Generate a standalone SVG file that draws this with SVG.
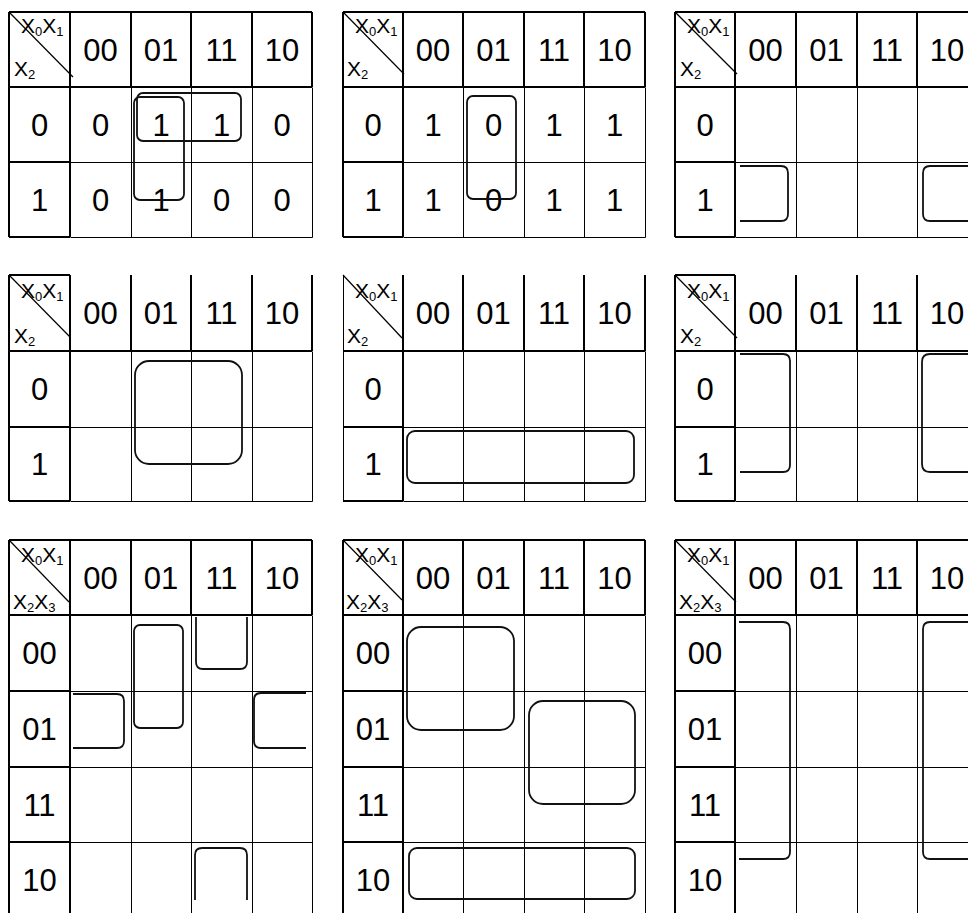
<svg xmlns="http://www.w3.org/2000/svg" width="968" height="913" viewBox="0 0 968 913">
<style>
.thick{stroke:#000;stroke-width:2;fill:none}
.thin{stroke:#000;stroke-width:1;fill:none}
.diag{stroke:#000;stroke-width:1.2;fill:none}
.loop{stroke:#111;stroke-width:1.8;fill:none}
.num{font-family:"Liberation Sans",Arial,sans-serif;font-size:31px;text-anchor:middle;fill:#000}
.lab{font-family:"Liberation Sans",Arial,sans-serif;font-size:21px;fill:#000}
.sub{font-size:13px}
</style>
<rect width="968" height="913" fill="#fff"/>

<!-- Map 1 -->
<g id="kmap1">
<path class="thick" d="M9,12 H312 M9,87 H312 M9,12 V237 M70,12 V237 M131,12 V87 M191,12 V87 M252,12 V87 M312,12 V87 M9,162 H70 M9,237 H70"/>
<path class="thin" transform="translate(0.5,0.5)" d="M131,87 V237 M191,87 V237 M252,87 V237 M312,87 V237 M70,162 H312 M70,237 H312"/>
<path class="diag" d="M9,12 L73,77"/>
<text class="lab" x="21" y="33">X<tspan class="sub" dy="3">0</tspan><tspan dy="-3">X</tspan><tspan class="sub" dy="3">1</tspan></text>
<text class="lab" x="14" y="76">X<tspan class="sub" dy="3">2</tspan></text>
<text class="num" x="100.5" y="60.5">00</text><text class="num" x="161" y="60.5">01</text><text class="num" x="221.5" y="60.5">11</text><text class="num" x="282" y="60.5">10</text>
<text class="num" x="39.5" y="135.5">0</text><text class="num" x="39.5" y="210.5">1</text>
<text class="num" x="100.5" y="135.5">0</text><text class="num" x="161" y="135.5">1</text><text class="num" x="221.5" y="135.5">1</text><text class="num" x="282" y="135.5">0</text>
<text class="num" x="100.5" y="210.5">0</text><text class="num" x="161" y="210.5">1</text><text class="num" x="221.5" y="210.5">0</text><text class="num" x="282" y="210.5">0</text>
<rect class="loop" x="137" y="93" width="104" height="48" rx="6"/>
<rect class="loop" x="134" y="97" width="50" height="103" rx="6"/>
</g>

<!-- Map 2 -->
<g id="kmap2">
<path class="thick" d="M343,12 H645 M343,87 H645 M343,12 V237 M403,12 V237 M463,12 V87 M524,12 V87 M584,12 V87 M645,12 V87 M343,162 H403 M343,237 H403"/>
<path class="thin" transform="translate(0.5,0.5)" d="M463,87 V237 M524,87 V237 M584,87 V237 M645,87 V237 M403,162 H645 M403,237 H645"/>
<path class="diag" d="M343,12 L404,74"/>
<text class="lab" x="355" y="33">X<tspan class="sub" dy="3">0</tspan><tspan dy="-3">X</tspan><tspan class="sub" dy="3">1</tspan></text>
<text class="lab" x="347" y="76">X<tspan class="sub" dy="3">2</tspan></text>
<text class="num" x="433" y="60.5">00</text><text class="num" x="493.5" y="60.5">01</text><text class="num" x="554" y="60.5">11</text><text class="num" x="614.5" y="60.5">10</text>
<text class="num" x="373" y="135.5">0</text><text class="num" x="373" y="210.5">1</text>
<text class="num" x="433" y="135.5">1</text><text class="num" x="493.5" y="135.5">0</text><text class="num" x="554" y="135.5">1</text><text class="num" x="614.5" y="135.5">1</text>
<text class="num" x="433" y="210.5">1</text><text class="num" x="493.5" y="210.5">0</text><text class="num" x="554" y="210.5">1</text><text class="num" x="614.5" y="210.5">1</text>
<rect class="loop" x="467" y="96" width="49" height="103" rx="6"/>
</g>

<!-- Map 3 -->
<g id="kmap3">
<path class="thick" d="M675,12 H977 M675,87 H977 M675,12 V237 M735,12 V237 M796,12 V87 M857,12 V87 M917,12 V87 M675,162 H735 M675,237 H735"/>
<path class="thin" transform="translate(0.5,0.5)" d="M796,87 V237 M857,87 V237 M917,87 V237 M735,162 H977 M735,237 H977"/>
<path class="diag" d="M675,12 L737,74"/>
<text class="lab" x="687" y="33">X<tspan class="sub" dy="3">0</tspan><tspan dy="-3">X</tspan><tspan class="sub" dy="3">1</tspan></text>
<text class="lab" x="680" y="76">X<tspan class="sub" dy="3">2</tspan></text>
<text class="num" x="765.5" y="60.5">00</text><text class="num" x="826.5" y="60.5">01</text><text class="num" x="887" y="60.5">11</text><text class="num" x="947" y="60.5">10</text>
<text class="num" x="705" y="135.5">0</text><text class="num" x="705" y="210.5">1</text>
<path class="loop" d="M740,166 H781 Q788,166 788,173 V214 Q788,221 781,221 H740"/>
<path class="loop" d="M970,166 H930 Q923,166 923,173 V214 Q923,221 930,221 H970"/>
</g>

<!-- Map 4 -->
<g id="kmap4">
<path class="thick" d="M9,275 H70 M9,351 H312 M9,275 V501 M70,275 V501 M131,275 V351 M191,275 V351 M252,275 V351 M312,275 V351 M9,427 H70 M9,501 H70"/>
<path class="thin" transform="translate(0.5,0.5)" d="M131,351 V501 M191,351 V501 M252,351 V501 M312,351 V501 M70,427 H312 M70,501 H312"/>
<path class="diag" d="M9,275 L70,337"/>
<text class="lab" x="21" y="298">X<tspan class="sub" dy="3">0</tspan><tspan dy="-3">X</tspan><tspan class="sub" dy="3">1</tspan></text>
<text class="lab" x="14" y="343">X<tspan class="sub" dy="3">2</tspan></text>
<text class="num" x="100.5" y="324">00</text><text class="num" x="161" y="324">01</text><text class="num" x="221.5" y="324">11</text><text class="num" x="282" y="324">10</text>
<text class="num" x="39.5" y="400">0</text><text class="num" x="39.5" y="475">1</text>
<rect class="loop" x="135" y="361" width="107" height="103" rx="14"/>
</g>

<!-- Map 5 -->
<g id="kmap5">
<path class="thick" d="M343,351 H645 M403,275 V501 M463,275 V351 M524,275 V351 M584,275 V351 M645,275 V351 M343,427 H403 M343,501 H403"/>
<path class="thin" transform="translate(0.5,0.5)" d="M343,275 V501 M463,351 V501 M524,351 V501 M584,351 V501 M645,351 V501 M403,427 H645 M403,501 H645"/>
<path class="diag" d="M343,275 L402,338"/>
<text class="lab" x="355" y="298">X<tspan class="sub" dy="3">0</tspan><tspan dy="-3">X</tspan><tspan class="sub" dy="3">1</tspan></text>
<text class="lab" x="347" y="343">X<tspan class="sub" dy="3">2</tspan></text>
<text class="num" x="433" y="324">00</text><text class="num" x="493.5" y="324">01</text><text class="num" x="554" y="324">11</text><text class="num" x="614.5" y="324">10</text>
<text class="num" x="373" y="400">0</text><text class="num" x="373" y="475">1</text>
<rect class="loop" x="407" y="431" width="227" height="52" rx="8"/>
</g>

<!-- Map 6 -->
<g id="kmap6">
<path class="thick" d="M675,275 H735 M675,351 H977 M675,275 V501 M735,275 V501 M796,275 V351 M857,275 V351 M917,275 V351 M675,427 H735 M675,501 H735"/>
<path class="thin" transform="translate(0.5,0.5)" d="M796,351 V501 M857,351 V501 M917,351 V501 M735,427 H977 M735,501 H977"/>
<path class="diag" d="M675,275 L737,338"/>
<text class="lab" x="687" y="298">X<tspan class="sub" dy="3">0</tspan><tspan dy="-3">X</tspan><tspan class="sub" dy="3">1</tspan></text>
<text class="lab" x="680" y="343">X<tspan class="sub" dy="3">2</tspan></text>
<text class="num" x="765.5" y="324">00</text><text class="num" x="826.5" y="324">01</text><text class="num" x="887" y="324">11</text><text class="num" x="947" y="324">10</text>
<text class="num" x="705" y="400">0</text><text class="num" x="705" y="475">1</text>
<path class="loop" d="M740,354 H783 Q790,354 790,361 V465 Q790,472 783,472 H740"/>
<path class="loop" d="M970,354 H930 Q922,354 922,362 V464 Q922,472 930,472 H970"/>
</g>

<!-- Map 7 -->
<g id="kmap7">
<path class="thick" d="M9,540 H312 M9,615 H312 M9,540 V918 M70,540 V918 M131,540 V615 M191,540 V615 M252,540 V615 M312,540 V615 M9,691 H70 M9,767 H70 M9,842 H70"/>
<path class="thin" transform="translate(0.5,0.5)" d="M131,615 V918 M191,615 V918 M252,615 V918 M312,615 V918 M70,691 H312 M70,767 H312 M70,842 H312"/>
<path class="diag" d="M9,540 L69,602"/>
<text class="lab" x="21" y="562">X<tspan class="sub" dy="3">0</tspan><tspan dy="-3">X</tspan><tspan class="sub" dy="3">1</tspan></text>
<text class="lab" x="13" y="609">X<tspan class="sub" dy="3">2</tspan><tspan dy="-3">X</tspan><tspan class="sub" dy="3">3</tspan></text>
<text class="num" x="100.5" y="588.5">00</text><text class="num" x="161" y="588.5">01</text><text class="num" x="221.5" y="588.5">11</text><text class="num" x="282" y="588.5">10</text>
<text class="num" x="39.5" y="664">00</text><text class="num" x="39.5" y="740">01</text><text class="num" x="39.5" y="815.5">11</text><text class="num" x="39.5" y="891">10</text>
<rect class="loop" x="134" y="625" width="49" height="103" rx="6"/>
<path class="loop" d="M196,617 V662 Q196,669 203,669 H240 Q247,669 247,662 V617"/>
<path class="loop" d="M73,694 H117 Q124,694 124,701 V741 Q124,748 117,748 H73"/>
<path class="loop" d="M306,693 H261 Q254,693 254,700 V741 Q254,748 261,748 H306"/>
<path class="loop" d="M195,900 V855 Q195,848 202,848 H240 Q247,848 247,855 V900"/>
</g>

<!-- Map 8 -->
<g id="kmap8">
<path class="thick" d="M343,540 H645 M343,615 H645 M343,540 V918 M403,540 V918 M463,540 V615 M524,540 V615 M584,540 V615 M645,540 V615 M343,691 H403 M343,767 H403 M343,842 H403"/>
<path class="thin" transform="translate(0.5,0.5)" d="M463,615 V918 M524,615 V918 M584,615 V918 M645,615 V918 M403,691 H645 M403,767 H645 M403,842 H645"/>
<path class="diag" d="M343,540 L402,600"/>
<text class="lab" x="355" y="562">X<tspan class="sub" dy="3">0</tspan><tspan dy="-3">X</tspan><tspan class="sub" dy="3">1</tspan></text>
<text class="lab" x="346" y="609">X<tspan class="sub" dy="3">2</tspan><tspan dy="-3">X</tspan><tspan class="sub" dy="3">3</tspan></text>
<text class="num" x="433" y="588.5">00</text><text class="num" x="493.5" y="588.5">01</text><text class="num" x="554" y="588.5">11</text><text class="num" x="614.5" y="588.5">10</text>
<text class="num" x="373" y="664">00</text><text class="num" x="373" y="740">01</text><text class="num" x="373" y="815.5">11</text><text class="num" x="373" y="891">10</text>
<rect class="loop" x="407" y="627" width="107" height="103" rx="14"/>
<rect class="loop" x="529" y="701" width="106" height="103" rx="14"/>
<rect class="loop" x="409" y="848" width="226" height="51" rx="8"/>
</g>

<!-- Map 9 -->
<g id="kmap9">
<path class="thick" d="M675,540 H977 M675,615 H977 M675,540 V918 M735,540 V918 M796,540 V615 M857,540 V615 M917,540 V615 M675,691 H735 M675,767 H735 M675,842 H735"/>
<path class="thin" transform="translate(0.5,0.5)" d="M796,615 V918 M857,615 V918 M917,615 V918 M735,691 H977 M735,767 H977 M735,842 H977"/>
<path class="diag" d="M675,540 L736,602"/>
<text class="lab" x="687" y="562">X<tspan class="sub" dy="3">0</tspan><tspan dy="-3">X</tspan><tspan class="sub" dy="3">1</tspan></text>
<text class="lab" x="679" y="609">X<tspan class="sub" dy="3">2</tspan><tspan dy="-3">X</tspan><tspan class="sub" dy="3">3</tspan></text>
<text class="num" x="765.5" y="588.5">00</text><text class="num" x="826.5" y="588.5">01</text><text class="num" x="887" y="588.5">11</text><text class="num" x="947" y="588.5">10</text>
<text class="num" x="705" y="664">00</text><text class="num" x="705" y="740">01</text><text class="num" x="705" y="815.5">11</text><text class="num" x="705" y="891">10</text>
<path class="loop" d="M739,622 H783 Q790,622 790,629 V852 Q790,859 783,859 H739"/>
<path class="loop" d="M970,622 H930 Q923,622 923,629 V852 Q923,859 930,859 H970"/>
</g>
</svg>
